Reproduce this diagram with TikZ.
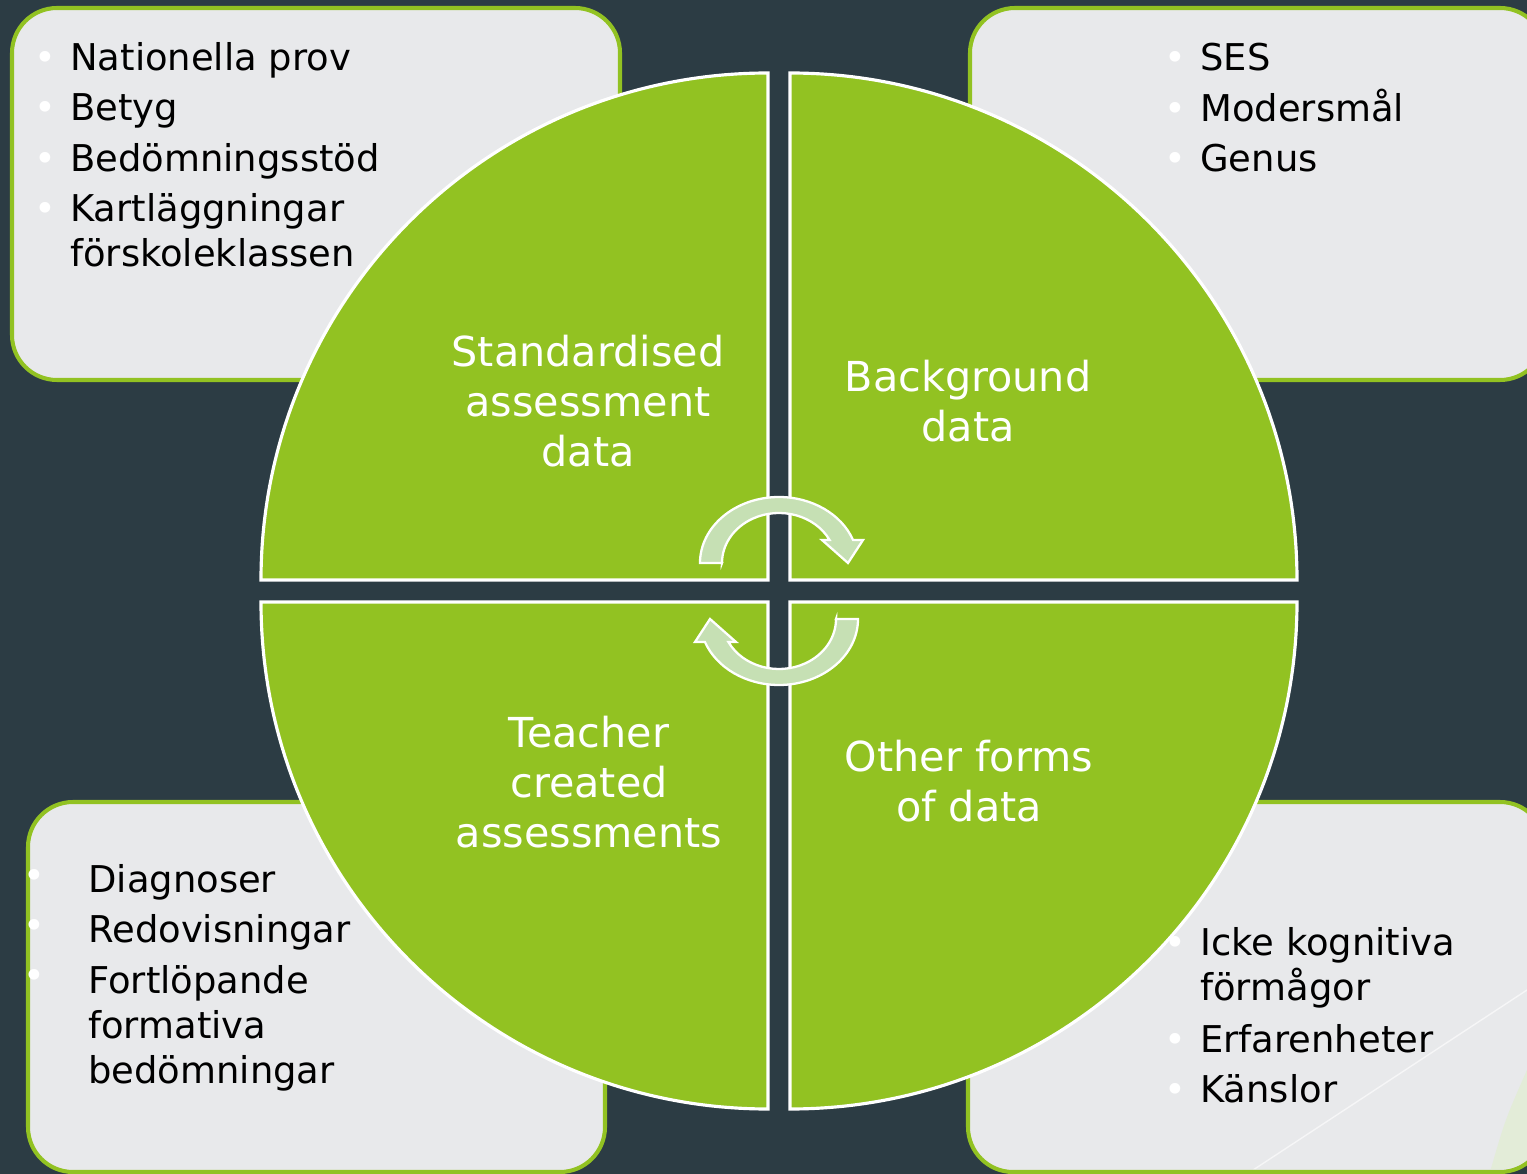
\documentclass[tikz,border=0pt]{standalone}
\usepackage{fontspec}
\setmainfont{DejaVu Sans}
\usepackage{xcolor}

\definecolor{slide_bg}{HTML}{2C3C44}
\definecolor{leaf_green}{HTML}{92C222}
\definecolor{box_grey}{HTML}{E8E9EB}
\definecolor{arrow_green}{HTML}{C6E0B4}
\definecolor{faint_green}{HTML}{E3ECD8}

% white bullet hanging left of an item
\newcommand{\bul}[2][0pt]{\llap{\raisebox{#1}{\textcolor{white}{•}}\hspace{#2}}}

\begin{document}
\begin{tikzpicture}[
        x=0.2mm, y=-0.2mm,
        listbox/.style={draw=leaf_green, line width=2.3pt, fill=box_grey, rounded corners=9mm},
        quadrant/.style={draw=white, line width=1.8pt, fill=leaf_green},
        item_text/.style={anchor=north west, inner sep=0pt, align=left, text=black, font=\fontsize{21pt}{25.6pt}\selectfont},
        quad_label/.style={anchor=north, inner sep=0pt, align=center, text=white, font=\fontsize{23.5pt}{28.5pt}\selectfont},
        cycle_arrow/.style={draw=white, line width=1.3pt, fill=arrow_green}
    ]

        \useasboundingbox (0,0) rectangle (1527,1174);
        \clip (0,0) rectangle (1527,1174);
        \fill[slide_bg] (0,0) rectangle (1527,1174);

        % Boxes behind the circle
        \draw[listbox] (12,8) rectangle (620,380);
        \draw[listbox] (970,8) rectangle (1545,380);
        \draw[listbox] (28,802) rectangle (605,1172);
        \draw[listbox] (968,802) rectangle (1545,1172);

        % faint slide decoration in the lower right box
        \begin{scope}
            \clip[rounded corners=9mm] (971,805) rectangle (1545,1169);
            \draw[white!60!box_grey, line width=0.8pt] (1250,1172) -- (1527,990);
            \fill[faint_green] (1490,1172) .. controls (1505,1120) .. (1527,1070) -- (1527,1172) -- cycle;
        \end{scope}

        \node[item_text] (tl_list) at (70,42) {\bul{8pt}Nationella prov\\[3.1pt]\bul{8pt}Betyg\\[3.1pt]\bul{8pt}Bedömningsstöd\\[3.1pt]\bul{8pt}Kartläggningar\\förskoleklassen};
        \node[item_text] (tr_list) at (1200,43) {\bul{8pt}SES\\[3.1pt]\bul{8pt}Modersmål\\[3.1pt]\bul{8pt}Genus};
        \node[item_text] (bl_list) at (88,864) {\bul[2.5pt]{24.5pt}Diagnoser\\[3.1pt]\bul[2.5pt]{24.5pt}Redovisningar\\[3.1pt]\bul[2.5pt]{24.5pt}Fortlöpande\\formativa\\bedömningar};
        \node[item_text] (br_list) at (1200,927) {\bul{8pt}Icke kognitiva\\förmågor\\[4pt]\bul{8pt}Erfarenheter\\[3.1pt]\bul{8pt}Känslor};

        % Four quarters of the circle
        \draw[quadrant] (768,580) -- (261,580) arc[start angle=180, end angle=270, radius=507] -- cycle;
        \draw[quadrant] (790,580) -- (790,73) arc[start angle=270, end angle=360, radius=507] -- cycle;
        \draw[quadrant] (768,602) -- (768,1109) arc[start angle=90, end angle=180, radius=507] -- cycle;
        \draw[quadrant] (790,602) -- (1297,602) arc[start angle=0, end angle=90, radius=507] -- cycle;

        \node[quad_label] (standard) at (588,335) {Standardised\\assessment\\data};
        \node[quad_label] (background) at (968,360) {Background\\data};
        \node[quad_label] (teacher) at (589,716) {Teacher\\created\\assessments};
        \node[quad_label] (other) at (969,740) {Other forms\\of data};

        % Circular arrows in the middle
        \draw[cycle_arrow] (722,563) -- (700,563) arc[start angle=180, end angle=339.6, x radius=79, y radius=66]
            -- (863,540) -- (848,563) -- (822,540) -- (829.6,540)
            arc[start angle=332.6, end angle=180, x radius=57, y radius=50] -- cycle;
        \begin{scope}[rotate around={180:(779,591)}]
            \draw[cycle_arrow] (722,563) -- (700,563) arc[start angle=180, end angle=339.6, x radius=79, y radius=66]
                -- (863,540) -- (848,563) -- (822,540) -- (829.6,540)
                arc[start angle=332.6, end angle=180, x radius=57, y radius=50] -- cycle;
        \end{scope}

    \end{tikzpicture}
\end{document}
